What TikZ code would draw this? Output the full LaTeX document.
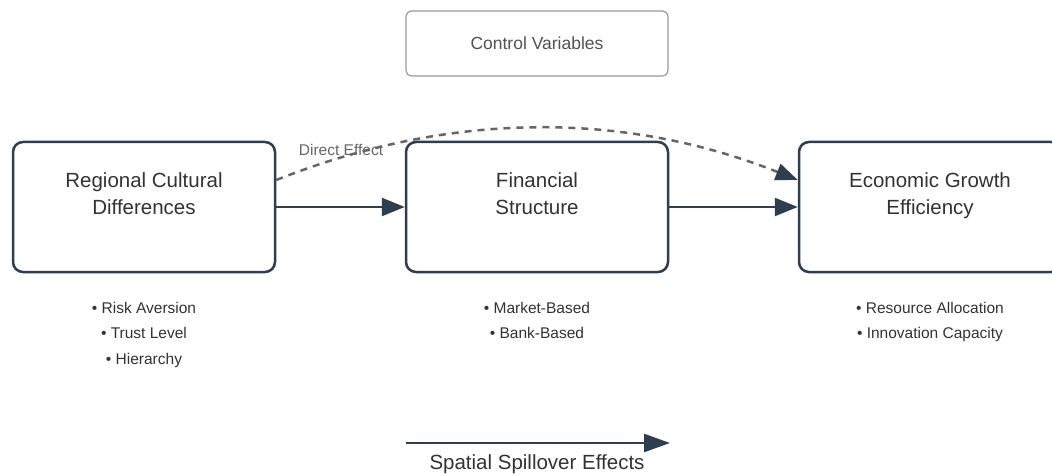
\documentclass[tikz,border=0pt]{standalone}
\usepackage{fontspec}
\setmainfont{Liberation Sans}
\usetikzlibrary{arrows.meta,calc}
\definecolor{navy}{HTML}{2C3E50}
\definecolor{txt}{HTML}{333333}
\definecolor{dash}{HTML}{666666}
\definecolor{ctrl}{HTML}{999999}
\begin{document}
\begin{tikzpicture}[x=1pt,y=-1pt,
  mainbox/.style={draw=navy,line width=2.5pt,rounded corners=10pt,minimum width=262pt,minimum height=130pt,inner sep=0pt,fill=white},
  maintext/.style={text=txt,align=center,anchor=north,font=\fontsize{20.5}{27}\selectfont},
  bullets/.style={text=txt,align=center,anchor=north,font=\fontsize{15.5}{25.5}\selectfont},
  flow/.style={draw=navy,line width=2.5pt,-{Triangle[length=23pt,width=18pt]}},
  direct/.style={draw=dash,line width=2.5pt,dash pattern=on 7pt off 6pt,-{Triangle[length=22pt,width=17pt,fill=navy,color=navy]}}]
\useasboundingbox (0,0) rectangle (1052,476);
\fill[white] (0,0) rectangle (1052,476);
% control variables
\node[draw=ctrl,line width=1.2pt,rounded corners=6pt,minimum width=262pt,minimum height=65pt,inner sep=0pt,text=txt!85,font=\fontsize{17.5}{21}\selectfont] (ctrl) at (537,43.5) {Control Variables};
% main boxes
\node[mainbox] (reg) at (144,207) {};
\node[mainbox] (fin) at (537,207) {};
\node[mainbox] (eco) at (930,207) {};
\node[maintext] (regt) at (144,169.5) {Regional Cultural\\Differences};
\node[maintext] (fint) at (537,169.5) {Financial\\Structure};
\node[maintext] (ecot) at (930,169.5) {Economic Growth\\Efficiency};
% arrows
\draw[flow] (reg.east) -- (fin.west);
\draw[flow] (fin.east) -- (eco.west);
\coordinate (ds) at ($(reg.east)+(0,-27)$);
\coordinate (de) at ($(eco.west)+(0,-27)$);
\draw[direct] (ds) .. controls (450,111) and (624,111) .. (de);
\node[text=dash,font=\fontsize{15.5}{18}\selectfont,inner sep=0pt] (dlab) at (341,149.5) {Direct Effect};
% bullet lists
\node[bullets] (regb) at (144,298.5) {• Risk Aversion\\• Trust Level\\• Hierarchy};
\node[bullets] (finb) at (537,298.5) {• Market-Based\\• Bank-Based};
\node[bullets] (ecob) at (930,298.5) {• Resource Allocation\\• Innovation Capacity};
% spatial spillover
\coordinate (ss) at (406,443);
\coordinate (se) at (670,443);
\draw[draw=navy,line width=2.5pt,-{Triangle[length=26pt,width=18pt]}] (ss) -- (se);
\node[text=txt,font=\fontsize{20.5}{24}\selectfont] (slab) at (537,464) {Spatial Spillover Effects};
\end{tikzpicture}
\end{document}
